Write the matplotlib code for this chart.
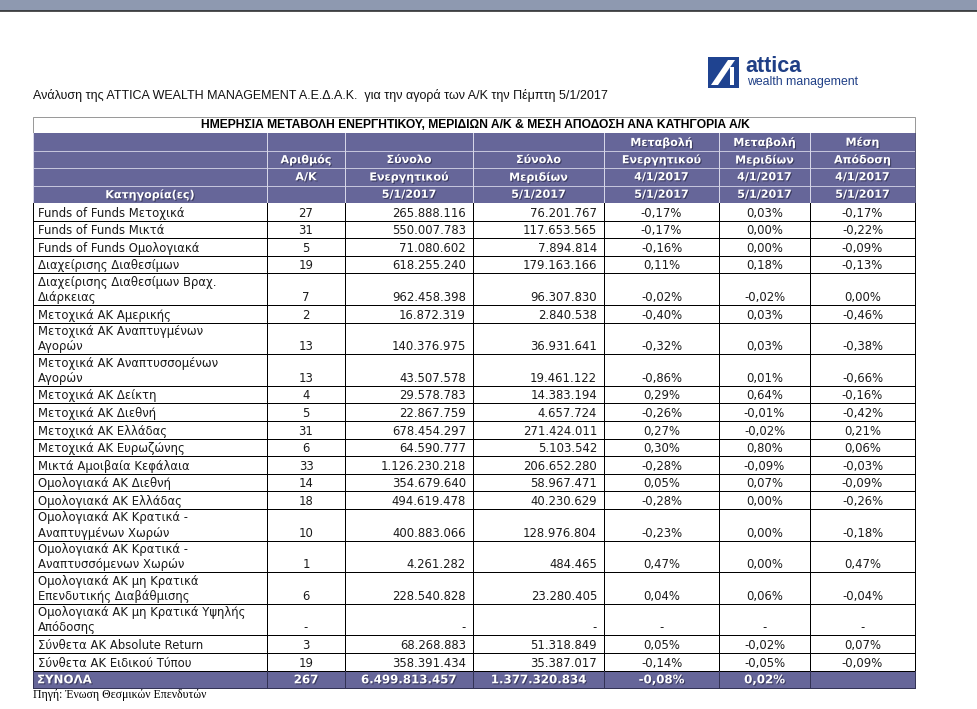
import matplotlib
matplotlib.use("Agg")
import matplotlib.pyplot as plt
from matplotlib.patches import Rectangle, Polygon
import matplotlib.patheffects as pe
from matplotlib import font_manager

# ---------------- data ----------------
categories = [
    "Funds of Funds Μετοχικά",
    "Funds of Funds Μικτά",
    "Funds of Funds Ομολογιακά",
    "Διαχείρισης Διαθεσίμων",
    "Διαχείρισης Διαθεσίμων Βραχ.\nΔιάρκειας",
    "Μετοχικά ΑΚ Αμερικής",
    "Μετοχικά ΑΚ Αναπτυγμένων\nΑγορών",
    "Μετοχικά ΑΚ Αναπτυσσομένων\nΑγορών",
    "Μετοχικά ΑΚ Δείκτη",
    "Μετοχικά ΑΚ Διεθνή",
    "Μετοχικά ΑΚ Ελλάδας",
    "Μετοχικά ΑΚ Ευρωζώνης",
    "Μικτά Αμοιβαία Κεφάλαια",
    "Ομολογιακά ΑΚ Διεθνή",
    "Ομολογιακά ΑΚ Ελλάδας",
    "Ομολογιακά ΑΚ Κρατικά -\nΑναπτυγμένων Χωρών",
    "Ομολογιακά ΑΚ Κρατικά -\nΑναπτυσσόμενων Χωρών",
    "Ομολογιακά ΑΚ μη Κρατικά\nΕπενδυτικής Διαβάθμισης",
    "Ομολογιακά ΑΚ μη Κρατικά Υψηλής\nΑπόδοσης",
    "Σύνθετα ΑΚ Absolute Return",
    "Σύνθετα ΑΚ Ειδικού Τύπου",
]
num_funds = [27, 31, 5, 19, 7, 2, 13, 13, 4, 5, 31, 6, 33, 14, 18, 10, 1, 6, None, 3, 19]
total_assets = [265888116, 550007783, 71080602, 618255240, 962458398, 16872319,
                140376975, 43507578, 29578783, 22867759, 678454297, 64590777,
                1126230218, 354679640, 494619478, 400883066, 4261282, 228540828,
                None, 68268883, 358391434]
total_units = [76201767, 117653565, 7894814, 179163166, 96307830, 2840538,
               36931641, 19461122, 14383194, 4657724, 271424011, 5103542,
               206652280, 58967471, 40230629, 128976804, 484465, 23280405,
               None, 51318849, 35387017]
assets_change = [-0.17, -0.17, -0.16, 0.11, -0.02, -0.40, -0.32, -0.86, 0.29, -0.26,
                 0.27, 0.30, -0.28, 0.05, -0.28, -0.23, 0.47, 0.04, None, 0.05, -0.14]
units_change = [0.03, 0.00, 0.00, 0.18, -0.02, 0.03, 0.03, 0.01, 0.64, -0.01,
                -0.02, 0.80, -0.09, 0.07, 0.00, 0.00, 0.00, 0.06, None, -0.02, -0.05]
avg_return = [-0.17, -0.22, -0.09, -0.13, 0.00, -0.46, -0.38, -0.66, -0.16, -0.42,
              0.21, 0.06, -0.03, -0.09, -0.26, -0.18, 0.47, -0.04, None, 0.07, -0.09]

total_label = "ΣΥΝΟΛΑ"
total_funds = 267
total_assets_sum = 6499813457
total_units_sum = 1377320834
total_assets_change = -0.08
total_units_change = 0.02

header_rows = [
    ["", "", "", "", "Μεταβολή", "Μεταβολή", "Μέση"],
    ["", "Αριθμός", "Σύνολο", "Σύνολο", "Ενεργητικού", "Μεριδίων", "Απόδοση"],
    ["", "Α/Κ", "Ενεργητικού", "Μεριδίων", "4/1/2017", "4/1/2017", "4/1/2017"],
    ["Κατηγορία(ες)", "", "5/1/2017", "5/1/2017", "5/1/2017", "5/1/2017", "5/1/2017"],
]
table_title = "ΗΜΕΡΗΣΙΑ ΜΕΤΑΒΟΛΗ ΕΝΕΡΓΗΤΙΚΟΥ, ΜΕΡΙΔΙΩΝ Α/Κ & ΜΕΣΗ ΑΠΟΔΟΣΗ ΑΝΑ ΚΑΤΗΓΟΡΙΑ Α/Κ"
subtitle = "Ανάλυση της ATTICA WEALTH MANAGEMENT Α.Ε.Δ.Α.Κ.  για την αγορά των Α/Κ την Πέμπτη 5/1/2017"
source = "Πηγή: Ένωση Θεσμικών Επενδυτών"

# ---------------- helpers ----------------
def fmt_int(v):
    return "-" if v is None else f"{v:,}".replace(",", ".")

def fmt_pct(v):
    return "-" if v is None else f"{v:.2f}".replace(".", ",") + "%"

def has_font(name):
    try:
        font_manager.findfont(font_manager.FontProperties(family=name), fallback_to_default=False)
        return True
    except Exception:
        return False

narrow = "Liberation Sans Narrow" if has_font("Liberation Sans Narrow") else (
    "DejaVu Sans Condensed" if has_font("DejaVu Sans Condensed") else "Liberation Sans")

W, H = 977, 709
fig = plt.figure(figsize=(W / 100, H / 100), dpi=100)
ax = fig.add_axes([0, 0, 1, 1])
ax.set_xlim(0, W)
ax.set_ylim(H, 0)
ax.axis("off")

PURPLE = "#666699"
PX = 0.72  # one pixel in points

# top band
ax.add_patch(Rectangle((0, 0), W, 10.5, facecolor="#8e99b0", edgecolor="none"))
ax.plot([0, W], [11, 11], color="#2a2a2a", lw=1.6 * PX)

# subtitle
ax.text(33, 96, subtitle, fontsize=9, family=[narrow, "DejaVu Sans"], color="#111111",
        va="center", ha="left")

# logo
ax.add_patch(Rectangle((708, 57), 31, 31, facecolor="#1f4390", edgecolor="none"))
ax.add_patch(Polygon([[711, 85], [718, 85], [735, 60], [728, 60]], closed=True,
                     facecolor="white", edgecolor="none"))
ax.add_patch(Rectangle((730, 67), 4, 18, facecolor="white", edgecolor="none"))
ax.text(745, 66.5, "attica", fontsize=15.5, fontweight="bold", family="Liberation Sans",
        color="#1f3f86", va="center", ha="left")
ax.text(747, 82.5, "wealth management", fontsize=8.8, family="Liberation Sans",
        color="#1f3f86", va="center", ha="left")

# geometry
col_edges = [33, 267, 345, 473, 604, 719, 810, 915]
left, right = col_edges[0], col_edges[-1]
title_top, title_bot = 117, 133
hdr_edges = [133, 151, 168, 185.5, 203]

# title box
ax.add_patch(Rectangle((left, title_top), right - left, title_bot - title_top,
                       facecolor="white", edgecolor="#9a9a9a", lw=1 * PX))
ax.text((left + right) / 2 + 1, (title_top + title_bot) / 2 + 0.5, table_title,
        fontsize=8.7, fontweight="bold", family="Liberation Sans", color="black",
        ha="center", va="center")

# header
ax.add_patch(Rectangle((left, hdr_edges[0]), right - left, hdr_edges[-1] - hdr_edges[0],
                       facecolor=PURPLE, edgecolor="none"))
for y in hdr_edges[1:-1]:
    ax.plot([left, right], [y, y], color="#c4c4dc", lw=1 * PX)
for x in col_edges[1:-1]:
    ax.plot([x, x], [hdr_edges[0], hdr_edges[-1]], color="#d6d6e8", lw=1 * PX)
ax.plot([left, left], [hdr_edges[0], hdr_edges[-1]], color="#d6d6e8", lw=1 * PX)
ax.plot([right, right], [hdr_edges[0], hdr_edges[-1]], color="#555577", lw=1 * PX)

shadow = [pe.withSimplePatchShadow(offset=(0.8, -0.8), shadow_rgbFace="#2b2b4a", alpha=0.7)]
for r, row in enumerate(header_rows):
    yc = (hdr_edges[r] + hdr_edges[r + 1]) / 2 + 0.5
    for c, label in enumerate(row):
        if not label:
            continue
        xc = (col_edges[c] + col_edges[c + 1]) / 2
        ax.text(xc, yc, label, fontsize=8, fontweight="bold", family="DejaVu Sans",
                color="white", ha="center", va="center", path_effects=shadow)

# data rows
single_h, tall_h, total_h = 17.6, 31.6, 17.4
y = hdr_edges[-1]
row_bounds = []
for cat in categories:
    h = tall_h if "\n" in cat else single_h
    row_bounds.append((y, y + h))
    y += h
data_bottom = y

FS = 8.4
FAM = "DejaVu Sans"
TXT = "#1a1a1a"
for i, cat in enumerate(categories):
    top, bot = row_bounds[i]
    base = bot - 4.0
    lines = cat.split("\n")
    for k, ln in enumerate(reversed(lines)):
        ax.text(left + 5, base - k * 15.2, ln, fontsize=FS, family=FAM, color=TXT,
                ha="left", va="baseline")
    cells = [
        (fmt_int(num_funds[i]), "center"),
        (fmt_int(total_assets[i]), "right"),
        (fmt_int(total_units[i]), "right"),
        (fmt_pct(assets_change[i]), "center"),
        (fmt_pct(units_change[i]), "center"),
        (fmt_pct(avg_return[i]), "center"),
    ]
    for c, (txt, al) in enumerate(cells, start=1):
        x0, x1 = col_edges[c], col_edges[c + 1]
        xt = (x0 + x1) / 2 if al == "center" else x1 - 7
        ax.text(xt, base, txt, fontsize=FS, family=FAM, color=TXT, ha=al, va="baseline")
    if i > 0:
        ax.plot([left, right], [top, top], color="black", lw=1 * PX)

for x in col_edges:
    ax.plot([x, x], [hdr_edges[-1], data_bottom], color="black", lw=1 * PX)

# total row
tt, tb = data_bottom, data_bottom + total_h
ax.add_patch(Rectangle((left, tt), right - left, total_h, facecolor=PURPLE,
                       edgecolor="none"))
ax.plot([left, right], [tt, tt], color="black", lw=1 * PX)
ax.plot([left, right], [tb, tb], color="#333355", lw=1 * PX)
for x in col_edges:
    ax.plot([x, x], [tt, tb], color="#333355", lw=1 * PX)
ty = (tt + tb) / 2 + 0.5
ax.text(left + 4, ty, total_label, fontsize=8.5, fontweight="bold", family=FAM,
        color="white", ha="left", va="center", path_effects=shadow)
totals = [str(total_funds), fmt_int(total_assets_sum), fmt_int(total_units_sum),
          fmt_pct(total_assets_change), fmt_pct(total_units_change), ""]
for c, txt in enumerate(totals, start=1):
    if not txt:
        continue
    xc = (col_edges[c] + col_edges[c + 1]) / 2
    ax.text(xc, ty, txt, fontsize=8.5, fontweight="bold", family=FAM, color="white",
            ha="center", va="center", path_effects=shadow)

# source
ax.text(33, tb + 7, source, fontsize=8.5, family="Liberation Serif", color="black",
        ha="left", va="center")

fig.savefig("out.png", dpi=100)
